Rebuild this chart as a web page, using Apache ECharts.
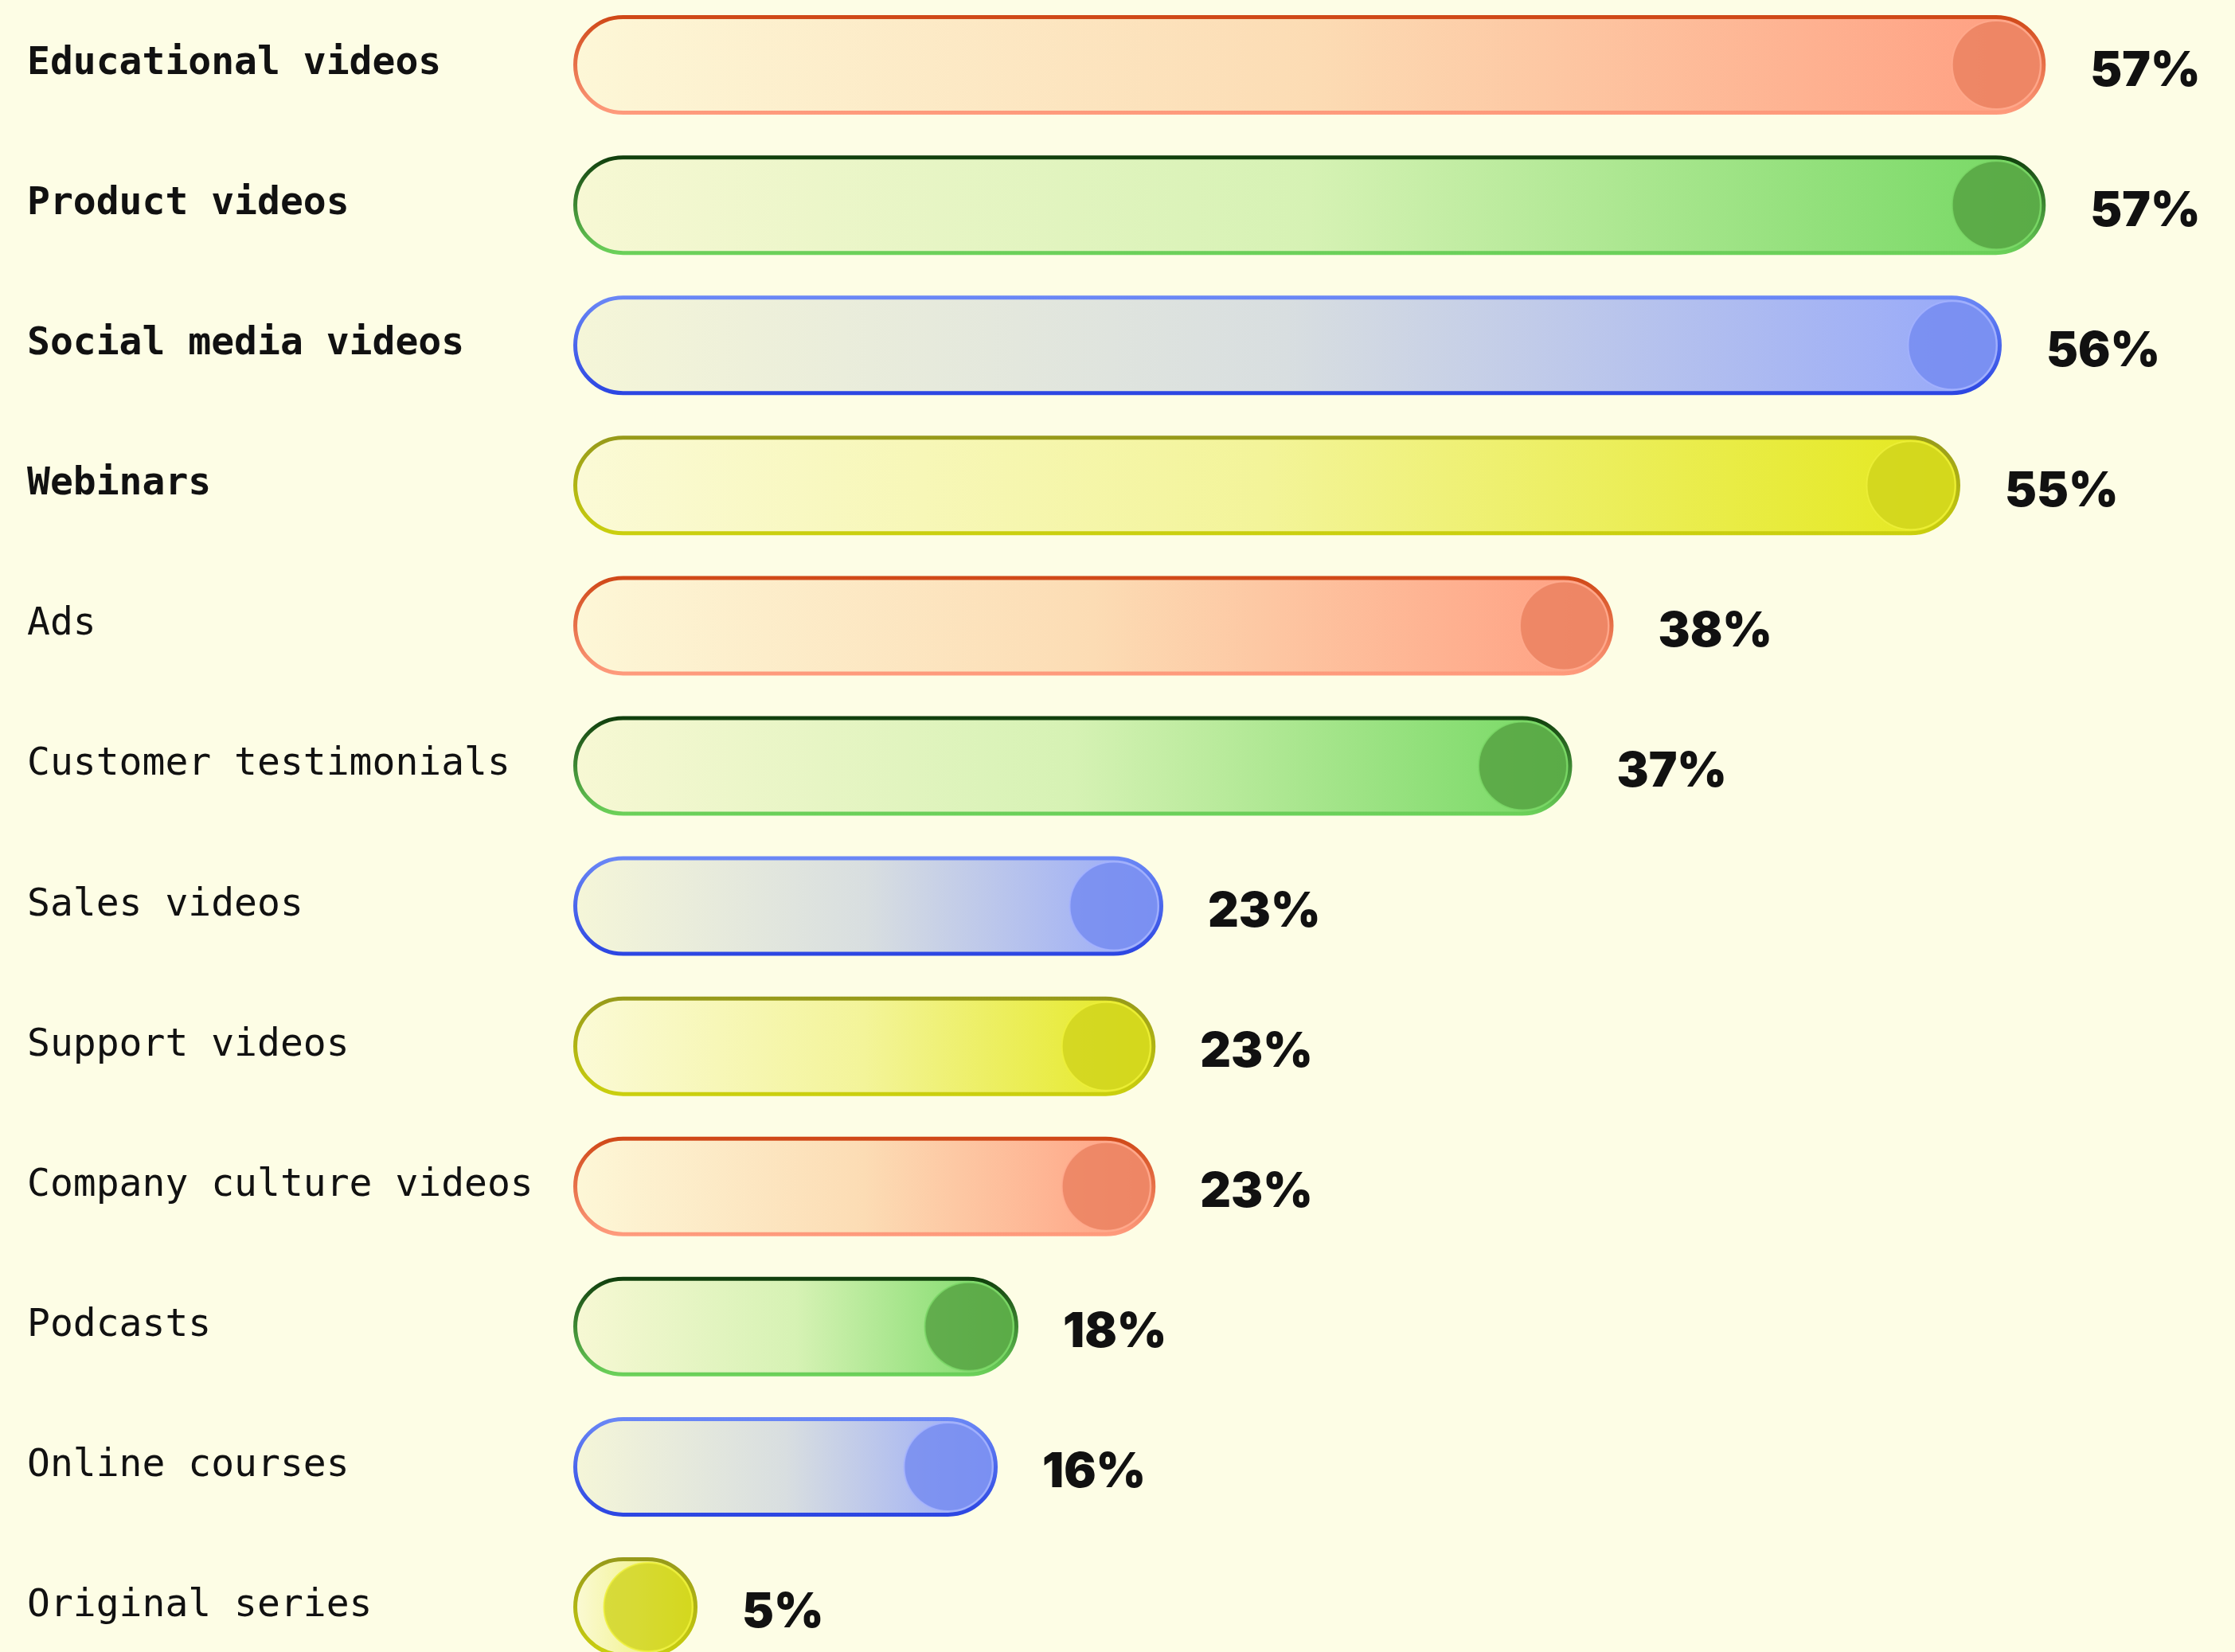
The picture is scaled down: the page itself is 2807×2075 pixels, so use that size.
<!DOCTYPE html>
<html>
<head>
<meta charset="utf-8">
<script src="https://cdn.jsdelivr.net/npm/echarts@6/dist/echarts.min.js"></script>
<style>
  html, body { margin: 0; padding: 0; background: #fdfde5; }
  #chart { width: 2807px; height: 2075px; }
</style>
</head>
<body>
<div id="chart"></div>
<script>
// ---- data ----
const categories = [
  'Educational videos', 'Product videos', 'Social media videos', 'Webinars',
  'Ads', 'Customer testimonials', 'Sales videos', 'Support videos',
  'Company culture videos', 'Podcasts', 'Online courses', 'Original series'
];
// printed percentages
const percentLabels = [57, 57, 56, 55, 38, 37, 23, 23, 23, 18, 16, 5];
// bar lengths as drawn in the picture (same % scale)
const barLengths = [56.9, 56.9, 55.2, 53.6, 40.2, 38.6, 22.8, 22.5, 22.5, 17.2, 16.4, 4.8];
const boldCount = 4;

// palette cycles red, green, blue, yellow
const fillStops = [
  ['#fdf7d7', '#fcdcb4', '#ff9d80'],
  ['#f7f8d4', '#d6f2b4', '#74d862'],
  ['#f5f6d8', '#d8dee0', '#95a7fa'],
  ['#fbfad6', '#f3f499', '#e4e81c']
];
const borderTop = ['#cf4716', '#0f3d0b', '#6b88f6', '#96991a'];
const borderBottom = ['#ff9c7e', '#6dd35b', '#2b45e2', '#cbd00e'];
const knobColors = ['#ea7f5e', '#54a040', '#7389f0', '#cfd31c'];
const knobRing = ['#ffab8e', '#7ad767', '#a5b3ff', '#eef03a'];

const barData = barLengths.map((v, i) => {
  const c = i % 4;
  return {
    value: v,
    itemStyle: {
      color: {
        type: 'linear', x: 0, y: 0, x2: 1, y2: 0,
        colorStops: [
          { offset: 0, color: fillStops[c][0] },
          { offset: 0.5, color: fillStops[c][1] },
          { offset: 1, color: fillStops[c][2] }
        ]
      },
      borderColor: {
        type: 'linear', x: 0, y: 0, x2: 0, y2: 1,
        colorStops: [
          { offset: 0, color: borderTop[c] },
          { offset: 1, color: borderBottom[c] }
        ]
      }
    }
  };
});

const knobData = barLengths.map((v, i) => {
  const c = i % 4;
  return {
    value: [v, i],
    itemStyle: { color: knobColors[c], borderColor: knobRing[c], borderWidth: 2 }
  };
});

const chart = echarts.init(document.getElementById('chart'), null, { renderer: 'canvas' });
chart.setOption({
  backgroundColor: '#fdfde5',
  animation: false,
  grid: { left: 720, width: 1950, top: -6.5, height: 2113, containLabel: false, outerBoundsMode: 'none' },
  xAxis: {
    type: 'value', min: 0, max: 60, show: false
  },
  yAxis: {
    type: 'category',
    data: categories,
    inverse: true,
    axisLine: { show: false },
    axisTick: { show: false },
    splitLine: { show: false },
    axisLabel: {
      margin: 686,
      align: 'left',
      formatter: (v, i) => (i < boldCount ? '{b|' + v + '}' : '{n|' + v + '}'),
      rich: {
        b: { fontFamily: 'DejaVu Sans Mono', fontWeight: 'bold', fontSize: 48, color: '#111111', padding: [0, 0, 2, 0] },
        n: { fontFamily: 'DejaVu Sans Mono', fontWeight: 'normal', fontSize: 48, color: '#111111', padding: [0, 0, 2, 0] }
      }
    }
  },
  series: [
    {
      type: 'bar',
      data: barData,
      barWidth: 125,
      itemStyle: { borderWidth: 5, borderRadius: 62 },
      label: {
        show: true,
        position: 'right',
        distance: 56,
        offset: [0, 8],
        formatter: p => percentLabels[p.dataIndex] + '%',
        fontFamily: 'Inter',
        fontWeight: 900,
        fontSize: 60,
        color: '#111111'
      },
      z: 2
    },
    {
      type: 'scatter',
      data: knobData,
      symbol: 'circle',
      symbolSize: 111,
      symbolOffset: [-62, 0],
      z: 3,
      silent: true
    }
  ]
});
</script>
</body>
</html>
